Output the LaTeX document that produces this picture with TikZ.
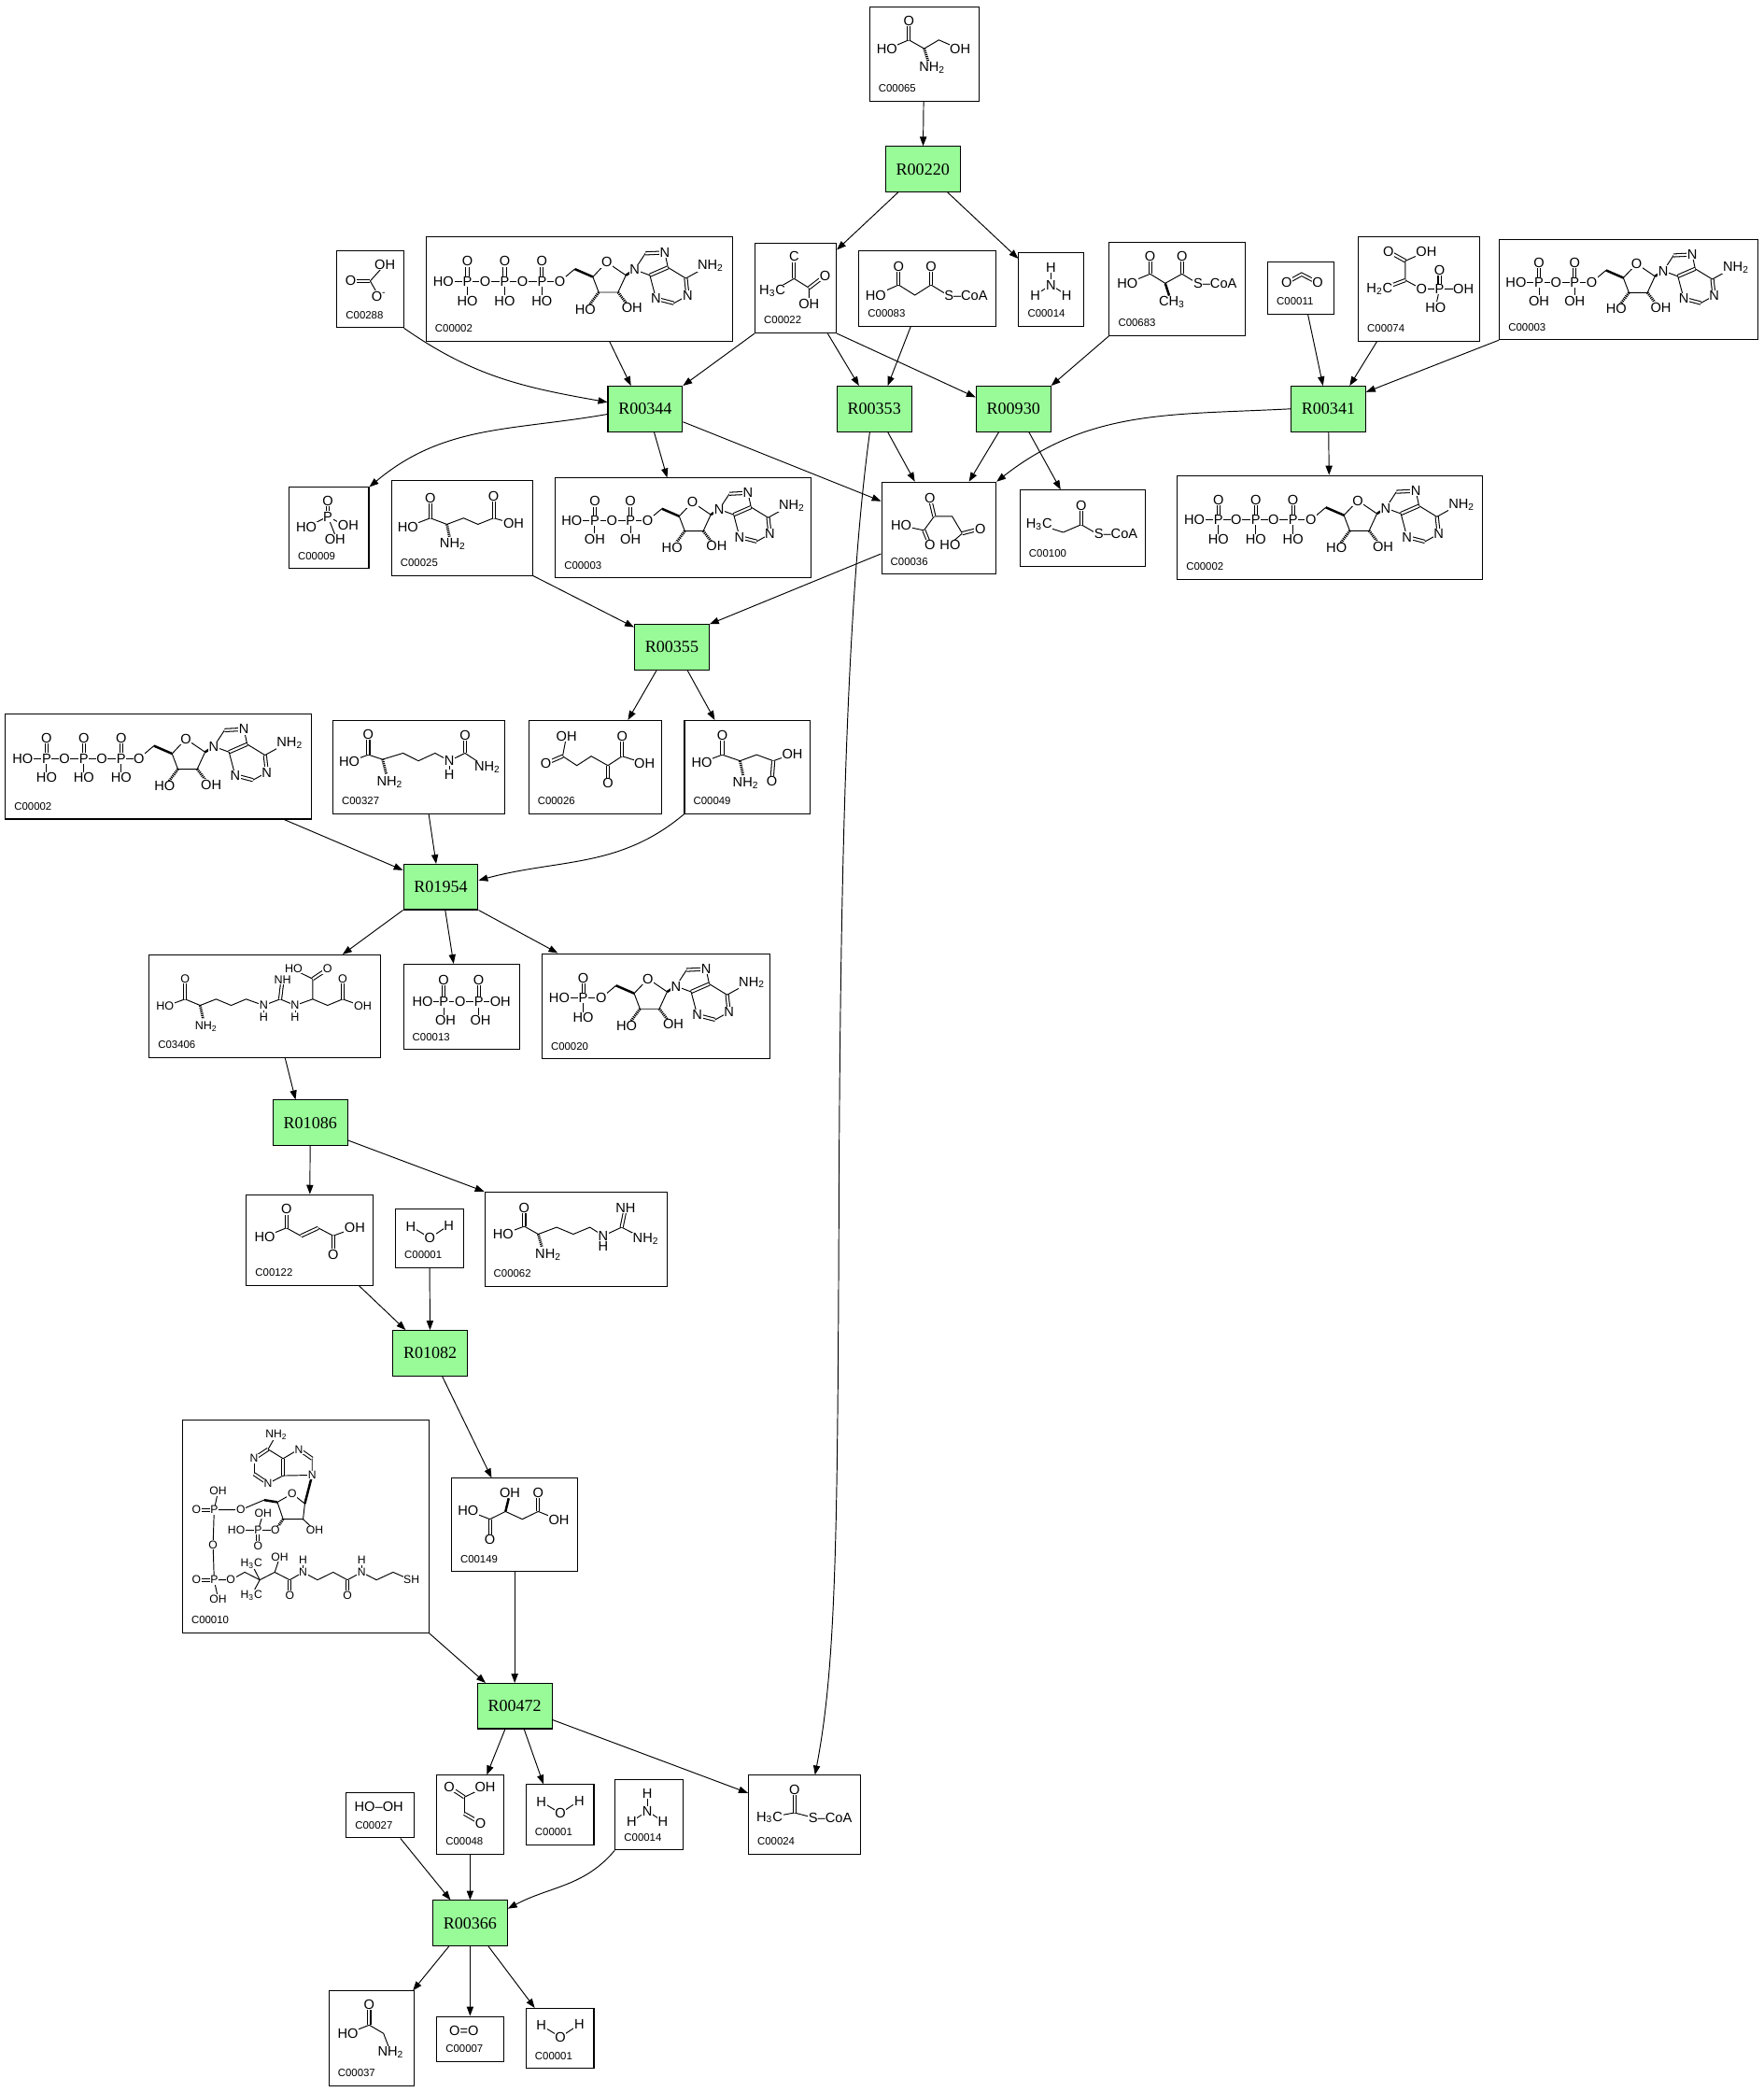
\documentclass[tikz,border=0pt]{standalone}
\usepackage{fontspec}
\setmainfont{Liberation Serif}
\newfontfamily\atomfam{Liberation Sans}
\usetikzlibrary{positioning, fit, calc, arrows.meta}
\definecolor{rxngreen}{RGB}{152,251,152}
\newcommand{\atomfont}{\atomfam\fontsize{7.7}{8}\selectfont}
\tikzset{
  cpdbox/.style={draw, line width=0.55pt, inner sep=0pt, fill=white},
  rxn/.style={draw, line width=0.55pt, fill=rxngreen, minimum width=42pt, minimum height=25.5pt, inner sep=0pt, font=\fontsize{9.5}{10}\selectfont},
  cid/.style={anchor=west, inner sep=0pt, font=\atomfam\fontsize{6}{7}\selectfont},
  atom/.style={fill=white, inner sep=0.35pt, font=\atomfont},
  bond/.style={line width=0.5pt},
  dbond/.style={double, double distance=1.1pt, line width=0.55pt},
  hash/.style={line width=1.5pt, dash pattern=on 0.6pt off 0.5pt},
  wedge/.style={line width=1.3pt},
  link/.style={line width=0.5pt, -{Triangle[length=5.2pt,width=3.8pt]}}
}
\newcommand{\cpd}[7]{%
  \node[cpdbox, fit={(#2,#3) (#4,#5)}] (#1) {};
  \begin{scope}[shift={(#2,#3)}]#7\end{scope}
  \node[cid] (#1id) at ({#2+6.5},{#5-9.5}) {#6};
}
\newcommand{\molser}{%
  \draw[bond] (13,32) -- (29.5,25) -- (41,31.5) -- (52,25) -- (68,32);
  \draw[dbond] (29.5,25) -- (29.5,10.5);
  \draw[hash] (41,31.5) -- (44,41);
  \node[atom] at (29.5,10.5) {O};
  \node[atom] at (13,32) {HO};
  \node[atom] at (68,32) {OH};
  \node[atom] at (47,46) {NH\textsubscript{2}};}
\newcommand{\molbicarb}{%
  \draw[bond] (36,10.7) -- (25,23) -- (31.5,34.5);
  \draw[dbond] (25,23) -- (10.4,23);
  \node[atom] at (36,10.7) {OH};
  \node[atom] at (10.4,23) {O};
  \node[atom] at (31.5,34.5) {O\textsuperscript{-}};}
\newcommand{\molpyr}{%
  \draw[dbond] (29.3,9.8) -- (29.3,26.2);
  \draw[bond] (13,35.6) -- (29.3,26.2) -- (40.5,33.2) -- (40.5,44.9);
  \draw[dbond] (40.5,33.2) -- (52.6,23.9);
  \node[atom] at (29.3,9.8) {C};
  \node[atom] at (13,35.6) {H\textsubscript{3}C};
  \node[atom] at (52.6,23.9) {O};
  \node[atom] at (40.5,44.9) {OH};}
\newcommand{\molmalcoa}{%
  \draw[bond] (12.7,33.6) -- (29.8,25.9) -- (42,33.6) -- (54.1,25.9) -- (66.7,33.6);
  \draw[dbond] (29.8,25.9) -- (29.8,11.9);
  \draw[dbond] (54.1,25.9) -- (54.1,11.9);
  \node[atom] at (12.7,33.6) {HO};
  \node[atom] at (29.8,11.9) {O};
  \node[atom] at (54.1,11.9) {O};
  \node[atom, anchor=west] at (63.4,33.6) {S\textendash CoA};}
\newcommand{\molnh}{%
  \draw[bond] (12.4,31.6) -- (24.1,23.9) -- (35.9,31.6);
  \draw[bond] (24.1,23.9) -- (24.1,10.6);
  \node[atom] at (24.1,10.6) {H};
  \node[atom] at (24.1,23.9) {N};
  \node[atom] at (12.4,31.6) {H};
  \node[atom] at (35.9,31.6) {H};}
\newcommand{\molmmcoa}{%
  \draw[bond] (13.6,30.7) -- (30.7,23.7) -- (42,30.7) -- (54.6,23.7) -- (66,30.7);
  \draw[dbond] (30.7,23.7) -- (30.7,10.4);
  \draw[dbond] (54.6,23.7) -- (54.6,10.4);
  \draw[wedge] (42,30.7) -- (45,40);
  \node[atom] at (13.6,30.7) {HO};
  \node[atom] at (30.7,10.4) {O};
  \node[atom] at (54.6,10.4) {O};
  \node[atom] at (47,44.7) {CH\textsubscript{3}};
  \node[atom, anchor=west] at (62.5,30.7) {S\textendash CoA};}
\newcommand{\molco}{%
  \draw[dbond] (14.1,15.2) -- (25.4,9) -- (37.5,15.2);
  \node[atom] at (14.1,15.2) {O};
  \node[atom] at (37.5,15.2) {O};}
\newcommand{\molpep}{%
  \draw[dbond] (35.3,17.9) -- (22.7,10.9);
  \draw[bond] (51.1,10.9) -- (35.3,17.9) -- (35.3,32.4) -- (47.5,38.9) -- (79,38.9);
  \draw[dbond] (35.3,32.4) -- (18,38.9);
  \draw[dbond] (61,38.9) -- (61,24.9);
  \draw[bond] (61,38.9) -- (58,52.9);
  \node[atom] at (22.7,10.9) {O};
  \node[atom] at (51.1,10.9) {OH};
  \node[atom] at (16,38.9) {H\textsubscript{2}C};
  \node[atom] at (47.5,38.9) {O};
  \node[atom] at (61,38.9) {P};
  \node[atom] at (61,24.9) {O};
  \node[atom] at (79,38.9) {OH};
  \node[atom] at (58,52.9) {HO};}
\newcommand{\molpi}{%
  \draw[dbond] (29.2,21.8) -- (29.2,10.1);
  \draw[bond] (13.1,30) -- (29.2,21.8) -- (43.5,29.5);
  \draw[bond] (29.2,21.8) -- (35.6,38.2);
  \node[atom] at (29.2,10.1) {O};
  \node[atom] at (29.2,21.8) {P};
  \node[atom] at (13.1,30) {HO};
  \node[atom] at (44.5,28.5) {OH};
  \node[atom] at (34.6,39.2) {OH};}
\newcommand{\molglu}{%
  \draw[bond] (12.3,34.5) -- (29.1,28) -- (41.6,32.7) -- (54.1,28) -- (64.9,32.7) -- (76.7,28) -- (91.7,32.2);
  \draw[dbond] (29.1,28) -- (29.1,12.8);
  \draw[dbond] (76.7,28) -- (76.7,11.6);
  \draw[hash] (41.6,32.7) -- (43.5,42);
  \node[atom] at (29.1,12.8) {O};
  \node[atom] at (12.3,34.5) {HO};
  \node[atom] at (46,47.4) {NH\textsubscript{2}};
  \node[atom] at (76.7,11.6) {O};
  \node[atom] at (91.7,32.2) {OH};}
\newcommand{\moloaa}{%
  \draw[bond] (14.7,32.7) -- (31.8,36.2) -- (39.5,25.7) -- (53,25.7) -- (60.6,38.5) -- (50.7,47.2);
  \draw[dbond] (39.5,25.7) -- (36.3,12.1);
  \draw[dbond] (31.8,36.2) -- (36.3,47.2);
  \draw[dbond] (60.6,38.5) -- (74.2,35);
  \node[atom] at (36.3,12.1) {O};
  \node[atom] at (14.7,32.7) {HO};
  \node[atom] at (36.3,47.2) {O};
  \node[atom] at (51.5,47.2) {HO};
  \node[atom] at (74.2,35) {O};}
\newcommand{\molpropcoa}{%
  \draw[bond] (14.3,25.9) -- (32.4,31.7) -- (45.9,25.9) -- (58,32.9);
  \draw[dbond] (45.9,25.9) -- (45.9,11.8);
  \node[atom] at (14.3,25.9) {H\textsubscript{3}C};
  \node[atom] at (45.9,11.8) {O};
  \node[atom, anchor=west] at (55,32.9) {S\textendash CoA};}
\newcommand{\molcit}{%
  \draw[bond] (12.3,31) -- (26.6,25.7) -- (37.3,29.2) -- (52.7,24.5) -- (64.2,30.3) -- (76.7,24.5) -- (87.4,30.3) -- (99.2,24.5) -- (115,35);
  \draw[dbond] (26.6,25.7) -- (26.6,10.5);
  \draw[dbond] (99.2,24.5) -- (99.2,11.2);
  \draw[hash] (37.3,29.2) -- (40,40);
  \draw[bond] (87.4,30.3) -- (87.4,40.8);
  \node[atom] at (26.6,10.5) {O};
  \node[atom] at (12.3,31) {HO};
  \node[atom] at (42.7,46) {NH\textsubscript{2}};
  \node[atom] at (87.4,30.3) {N};
  \node[atom] at (87.4,40.8) {H};
  \node[atom] at (99.2,11.2) {O};
  \node[atom] at (116,35) {NH\textsubscript{2}};}
\newcommand{\molakg}{%
  \draw[bond] (28.4,11.6) -- (25.5,26.8) -- (36.2,33.8) -- (47,26.8) -- (59.5,33.8) -- (70.2,26.8) -- (87,32.2);
  \draw[dbond] (25.5,26.8) -- (13,32.2);
  \draw[dbond] (59.5,33.8) -- (59.5,47.2);
  \draw[dbond] (70.2,26.8) -- (70.2,11.6);
  \node[atom] at (28.4,11.6) {OH};
  \node[atom] at (13,32.2) {O};
  \node[atom] at (59.5,47.2) {O};
  \node[atom] at (70.2,11.6) {O};
  \node[atom] at (87,32.2) {OH};}
\newcommand{\molasp}{%
  \draw[bond] (13,31.5) -- (28.4,25.7) -- (41.7,30.3) -- (54.2,25.7) -- (66.7,30.3) -- (81,25.2);
  \draw[dbond] (28.4,25.7) -- (28.4,11.2);
  \draw[dbond] (66.7,30.3) -- (65.6,45.5);
  \draw[hash] (41.7,30.3) -- (44,41);
  \node[atom] at (28.4,11.2) {O};
  \node[atom] at (13,31.5) {HO};
  \node[atom] at (46,47.2) {NH\textsubscript{2}};
  \node[atom] at (81,25.2) {OH};
  \node[atom] at (65.6,45.5) {O};}
\newcommand{\molargsuc}{%
  \def\atomfont{\atomfam\fontsize{6.6}{7}\selectfont}%
  \draw[bond] (12,38.6) -- (27,33.2) -- (38.3,37.9) -- (50.3,33.2) -- (61.6,37.9) -- (72.8,33.2) -- (86,37.9) -- (98.4,33.2) -- (109.6,37.9) -- (122.8,33.2) -- (134,37.9) -- (145.3,33.2) -- (160.4,38.6);
  \draw[dbond] (27,33.2) -- (27,18);
  \draw[dbond] (98.4,33.2) -- (100.2,18);
  \draw[bond] (122.8,33.2) -- (122.8,18) -- (107.8,10.6);
  \draw[dbond] (122.8,18) -- (134,10.6);
  \draw[dbond] (145.3,33.2) -- (145.3,18);
  \draw[hash] (38.3,37.9) -- (40.5,48);
  \draw[bond] (86,37.9) -- (86,46.6);
  \draw[bond] (109.6,37.9) -- (109.6,46.6);
  \node[atom] at (27,18) {O};
  \node[atom] at (12,38.6) {HO};
  \node[atom] at (42.8,53.5) {NH\textsubscript{2}};
  \node[atom] at (86,37.9) {N};
  \node[atom] at (86,46.6) {H};
  \node[atom] at (100.2,18.5) {NH};
  \node[atom] at (108.5,10) {HO};
  \node[atom] at (109.6,37.9) {N};
  \node[atom] at (109.6,46.6) {H};
  \node[atom] at (134,10.6) {O};
  \node[atom] at (145.3,18) {O};
  \node[atom] at (160.4,38.6) {OH};}
\newcommand{\molppi}{%
  \draw[bond] (14.4,28.4) -- (72.7,28.4);
  \draw[dbond] (30.2,28.4) -- (30.2,12);
  \draw[bond] (30.2,28.4) -- (30.2,42);
  \draw[dbond] (56.5,28.4) -- (56.5,12);
  \draw[bond] (56.5,28.4) -- (56.5,42);
  \node[atom] at (14.4,28.4) {HO};
  \node[atom] at (30.2,28.4) {P};
  \node[atom] at (42.6,28.4) {O};
  \node[atom] at (56.5,28.4) {P};
  \node[atom] at (72.7,28.4) {OH};
  \node[atom] at (30.2,12) {O};
  \node[atom] at (56.5,12) {O};
  \node[atom] at (31.5,42) {OH};
  \node[atom] at (57.8,42) {OH};}
\newcommand{\molfum}{%
  \draw[bond] (13.8,31.6) -- (30.1,25) -- (41,31);
  \draw[dbond] (41,31) -- (54,25);
  \draw[bond] (54,25) -- (65.2,30.9) -- (81.4,25);
  \draw[dbond] (30.1,25) -- (30.1,11);
  \draw[dbond] (65.2,30.9) -- (65.2,44.9);
  \node[atom] at (30.1,11) {O};
  \node[atom] at (13.8,31.6) {HO};
  \node[atom] at (81.4,25) {OH};
  \node[atom] at (65.2,44.9) {O};}
\newcommand{\molwater}{%
  \draw[bond] (11.5,12.8) -- (25.8,21.5) -- (40,12.1);
  \node[atom] at (11.5,12.8) {H};
  \node[atom] at (25.8,21.5) {O};
  \node[atom] at (40,12.1) {H};}
\newcommand{\molarg}{%
  \draw[bond] (13.9,31.7) -- (29.7,25.8) -- (40.2,31.7) -- (54,26.5) -- (66.5,31.7) -- (79,26.5) -- (89,32.9) -- (102.8,26.5) -- (119.8,35.2);
  \draw[dbond] (29.7,25.8) -- (29.7,11.8);
  \draw[dbond] (102.8,26.5) -- (105.8,11.8);
  \draw[hash] (40.2,31.7) -- (43,41.5);
  \draw[bond] (89,32.9) -- (89,40.6);
  \node[atom] at (29.7,11.8) {O};
  \node[atom] at (13.9,31.7) {HO};
  \node[atom] at (47.7,46.9) {NH\textsubscript{2}};
  \node[atom] at (89,32.9) {N};
  \node[atom] at (89,41) {H};
  \node[atom] at (105.8,11.8) {NH};
  \node[atom] at (121,35.2) {NH\textsubscript{2}};}
\newcommand{\molcoa}{%
  \def\atomfont{\atomfam\fontsize{6.4}{7}\selectfont}%
  \draw[bond] (64.3,22.2) -- (70.6,11.2);
  \draw[dbond] (64.3,22.2) -- (53.8,29.2);
  \draw[bond] (53.8,29.2) -- (53.8,40.8);
  \draw[dbond] (53.8,40.8) -- (64.3,47.9);
  \draw[bond] (64.3,47.9) -- (75.6,42);
  \draw[dbond] (75.6,42) -- (75.6,29.2);
  \draw[bond] (75.6,29.2) -- (64.3,22.2);
  \draw[bond] (75.6,29.2) -- (87.4,22.2);
  \draw[dbond] (87.4,22.2) -- (97.4,29.2);
  \draw[bond] (97.4,29.2) -- (97.4,41.6) -- (75.6,42);
  \draw[wedge] (97.4,41.6) -- (91.9,63);
  \draw[bond] (91.9,63) -- (82.4,55.6) -- (71.3,61.9) -- (75.6,74.7) -- (90.6,74.7) -- cycle;
  \draw[bond] (90.6,74.7) -- (99.4,83);
  \draw[wedge] (71.3,61.9) -- (61.3,60.3);
  \draw[bond] (61.3,60.3) -- (43.8,67.7) -- (23.8,67.7) -- (26.8,53.7);
  \draw[dbond] (23.8,67.7) -- (10.5,67.7);
  \draw[bond] (23.8,67.7) -- (23,94) -- (23.8,120.3) -- (26.8,134.4);
  \draw[dbond] (23.8,120.3) -- (10.5,120.3);
  \draw[bond] (23.8,120.3) -- (36.3,120.3) -- (46.8,114.5) -- (58.1,120.3) -- (69.3,114.5) -- (80.6,120.3) -- (90.6,114.5) -- (101.4,120.3) -- (113.2,114.5) -- (123.9,120.3) -- (134.5,114.5) -- (145.7,120.3) -- (158.2,114.5) -- (171.5,120.3);
  \draw[bond] (51.8,108) -- (58.1,120.3) -- (51.8,132);
  \draw[bond] (69.3,114.5) -- (73.1,103.3);
  \draw[dbond] (80.6,120.3) -- (80.6,132);
  \draw[dbond] (123.9,120.3) -- (123.9,132);
  \draw[bond] (90.6,114.5) -- (90.6,105.6);
  \draw[bond] (134.5,114.5) -- (134.5,105.6);
  \draw[hash] (75.6,74.7) -- (69.8,83);
  \draw[bond] (69.8,83) -- (40.5,83);
  \draw[bond] (56.8,83) -- (60.6,70.5);
  \draw[dbond] (56.8,83) -- (56.8,94.6);
  \node[atom] at (70.6,11.2) {NH\textsubscript{2}};
  \node[atom] at (53.8,29.2) {N};
  \node[atom] at (64.3,47.9) {N};
  \node[atom] at (87.4,22.2) {N};
  \node[atom] at (97.4,41.6) {N};
  \node[atom] at (82.4,55.6) {O};
  \node[atom] at (99.4,83) {OH};
  \node[atom] at (43.8,67.7) {O};
  \node[atom] at (23.8,67.7) {P};
  \node[atom] at (10.5,67.7) {O};
  \node[atom] at (26.8,53.7) {OH};
  \node[atom] at (23,94) {O};
  \node[atom] at (23.8,120.3) {P};
  \node[atom] at (10.5,120.3) {O};
  \node[atom] at (26.8,134.4) {OH};
  \node[atom] at (36.3,120.3) {O};
  \node[atom] at (51.8,108) {H\textsubscript{3}C};
  \node[atom] at (51.8,132) {H\textsubscript{3}C};
  \node[atom] at (73.1,103.3) {OH};
  \node[atom] at (80.6,132) {O};
  \node[atom] at (90.6,114.5) {N};
  \node[atom] at (90.6,105.6) {H};
  \node[atom] at (123.9,132) {O};
  \node[atom] at (134.5,114.5) {N};
  \node[atom] at (134.5,105.6) {H};
  \node[atom] at (172,120.3) {SH};
  \node[atom] at (69.8,83) {O};
  \node[atom] at (56.8,83) {P};
  \node[atom] at (40.5,83) {HO};
  \node[atom] at (60.6,70.5) {OH};
  \node[atom] at (56.8,94.6) {O};}
\newcommand{\molmal}{%
  \draw[bond] (12.6,24.4) -- (28.9,30.7) -- (40.6,24.9) -- (53.2,30.7) -- (65.2,24.9) -- (80.7,31.2);
  \draw[dbond] (28.9,30.7) -- (28.9,45.9);
  \draw[dbond] (65.2,24.9) -- (65.2,10.9);
  \draw[wedge] (40.6,24.9) -- (43,15);
  \node[atom] at (12.6,24.4) {HO};
  \node[atom] at (28.9,45.9) {O};
  \node[atom] at (43.9,10.9) {OH};
  \node[atom] at (65.2,10.9) {O};
  \node[atom] at (80.7,31.2) {OH};}
\newcommand{\molperox}{\node[atom] at (24.5,10.3) {HO\textendash OH};}
\newcommand{\molglyox}{%
  \draw[dbond] (20.7,16.4) -- (9.4,8.9);
  \draw[bond] (20.7,16.4) -- (36.3,8.9);
  \draw[bond] (20.7,16.4) -- (20.7,28.8);
  \draw[dbond] (20.7,28.8) -- (32.8,35.8);
  \node[atom] at (9.4,8.9) {O};
  \node[atom] at (36.3,8.9) {OH};
  \node[atom] at (32.8,35.8) {O};}
\newcommand{\molaccoa}{%
  \draw[bond] (15.8,31.6) -- (34.6,28.1) -- (48,31.6);
  \draw[dbond] (34.6,28.1) -- (34.6,10.6);
  \node[atom] at (15.8,31.6) {H\textsubscript{3}C};
  \node[atom] at (34.6,10.6) {O};
  \node[atom, anchor=west] at (44.5,31.6) {S\textendash CoA};}
\newcommand{\molgly}{%
  \draw[bond] (14.2,31.8) -- (30.3,25.5) -- (41,31.8) -- (46.4,45.9);
  \draw[dbond] (30.3,25.5) -- (30.3,10.3);
  \node[atom] at (30.3,10.3) {O};
  \node[atom] at (14.2,31.8) {HO};
  \node[atom] at (46.4,45.9) {NH\textsubscript{2}};}
\newcommand{\moloo}{\node[atom] at (20.4,10.7) {O=O};}
\newcommand{\moladenosine}{%
  \draw[bond] (100.8,33.4) -- (112,24);
  \draw[wedge] (112,24) -- (125.6,29.9);
  \draw[bond] (125.6,29.9) -- (136,18.9) -- (150.4,28.7) -- (144.5,41.5) -- (130,41.5) -- cycle;
  \draw[hash] (130,41.5) -- (123,51);
  \draw[hash] (144.5,41.5) -- (151,50);
  \draw[wedge] (150.4,28.7) -- (157,24.5);
  \draw[bond] (157,24.5) -- (165,12.3);
  \draw[dbond] (165,12.3) -- (179.6,11.6);
  \draw[bond] (179.6,11.6) -- (182,22.8);
  \draw[dbond] (182,22.8) -- (168.4,28.7);
  \draw[bond] (168.4,28.7) -- (157,24.5);
  \draw[bond] (168.4,28.7) -- (173,46.2);
  \draw[dbond] (173,46.2) -- (186.4,49.7);
  \draw[bond] (186.4,49.7) -- (196.8,43.9);
  \draw[dbond] (196.8,43.9) -- (195.4,31);
  \draw[bond] (195.4,31) -- (182,22.8);
  \draw[bond] (195.4,31) -- (208,24);
  \node[atom] at (136,18.9) {O};
  \node[atom] at (120,54.4) {HO};
  \node[atom] at (155,53.2) {OH};
  \node[atom] at (157,24.5) {N};
  \node[atom] at (179.6,11.6) {N};
  \node[atom] at (173,46.2) {N};
  \node[atom] at (196.8,43.9) {N};
  \node[atom] at (214,21.7) {NH\textsubscript{2}};}
\newcommand{\molnucl}[2]{%
  \pgfmathsetmacro{\lastox}{44.4+28*(#1-1)}%
  \begin{scope}[shift={({\lastox-100.8},0)}]\moladenosine\end{scope}
  \draw[bond] (13,33.4) -- (\lastox,33.4);
  \foreach \k in {1,...,#1}{%
    \pgfmathsetmacro{\phx}{31+28*(\k-1)}%
    \draw[dbond] (\phx,33.4) -- (\phx,18.2);
    \draw[bond] (\phx,33.4) -- (\phx,47.9);
    \node[atom] at (\phx,18.2) {O};
    \node[atom] at (\phx,47.9) {#2};
    \node[atom] at (\phx,33.4) {P};
    \node[atom] at (\phx+13.4,33.4) {O};
  }
  \node[atom] at (13,33.4) {HO};}

\begin{document}
\begin{tikzpicture}[x=0.75pt, y=-0.75pt]
\path[fill=white] (0,0) rectangle (1324,1570.8);
\useasboundingbox (0,0) rectangle (1324,1570.8);

\cpd{c65}{653}{5}{735}{76}{C00065}{\molser}
\cpd{c288}{253}{188}{303}{246}{C00288}{\molbicarb}
\cpd{c2a}{320}{178}{550}{256}{C00002}{\molnucl{3}{HO}}
\cpd{c22}{567}{183}{628}{250}{C00022}{\molpyr}
\cpd{c83}{645}{188}{748}{245}{C00083}{\molmalcoa}
\cpd{c14a}{765}{190}{814}{245}{C00014}{\molnh}
\cpd{c683}{833}{182}{935}{252}{C00683}{\molmmcoa}
\cpd{c11}{952}{197}{1002}{236}{C00011}{\molco}
\cpd{c74}{1020}{178}{1111}{256}{C00074}{\molpep}
\cpd{c3a}{1126}{180}{1320}{255}{C00003}{\begin{scope}[scale=0.957]\molnucl{2}{OH}\end{scope}}
\cpd{c9}{217}{366}{277}{427}{C00009}{\molpi}
\cpd{c25}{294}{361}{400}{432}{C00025}{\molglu}
\cpd{c3b}{417}{359}{609}{434}{C00003}{\begin{scope}[scale=0.957]\molnucl{2}{OH}\end{scope}}
\cpd{c36}{662}{362}{748}{431}{C00036}{\moloaa}
\cpd{c100}{766}{368}{860}{425}{C00100}{\molpropcoa}
\cpd{c2b}{884}{357}{1113}{435}{C00002}{\molnucl{3}{HO}}
\cpd{c2c}{4}{536}{234}{615}{C00002}{\molnucl{3}{HO}}
\cpd{c327}{250}{541}{379}{611}{C00327}{\molcit}
\cpd{c26}{397}{541}{497}{611}{C00026}{\molakg}
\cpd{c49}{514}{541}{608}{611}{C00049}{\molasp}
\cpd{c3406}{112}{717}{286}{794}{C03406}{\molargsuc}
\cpd{c13}{303}{724}{390}{788}{C00013}{\molppi}
\cpd{c20}{407}{716}{578}{795}{C00020}{\molnucl{1}{HO}}
\cpd{c122}{185}{897}{280}{965}{C00122}{\molfum}
\cpd{c1a}{297}{908}{348}{952}{C00001}{\molwater}
\cpd{c62}{364}{895}{501}{966}{C00062}{\molarg}
\cpd{c10}{137}{1066}{322}{1226}{C00010}{\molcoa}
\cpd{c149}{339}{1110}{434}{1180}{C00149}{\molmal}
\cpd{c27}{260}{1346}{311}{1380}{C00027}{\molperox}
\cpd{c48}{328}{1333}{378}{1392}{C00048}{\molglyox}
\cpd{c1b}{395}{1340}{446}{1385}{C00001}{\molwater}
\cpd{c14b}{462}{1336}{513}{1389}{C00014}{\molnh}
\cpd{c24}{562}{1333}{646}{1392}{C00024}{\molaccoa}
\cpd{c37}{247}{1495}{311}{1566}{C00037}{\molgly}
\cpd{c7}{328}{1514}{378}{1548}{C00007}{\moloo}
\cpd{c1c}{395}{1508}{446}{1553}{C00001}{\molwater}

\node[rxn] (r220) at (693,127) {R00220};
\node[rxn] (r344) at (484.5,307) {R00344};
\node[rxn] (r353) at (656.5,307) {R00353};
\node[rxn] (r930) at (761,307) {R00930};
\node[rxn] (r341) at (997.5,307) {R00341};
\node[rxn] (r355) at (504.5,486) {R00355};
\node[rxn] (r1954) at (331,666) {R01954};
\node[rxn] (r1086) at (233,843) {R01086};
\node[rxn] (r1082) at (323,1016) {R01082};
\node[rxn] (r472) at (386.5,1281) {R00472};
\node[rxn] (r366) at (353,1444) {R00366};

\draw[link] (c65) -- (r220);
\draw[link] (r220) -- (c22);
\draw[link] (r220) -- (c14a);
\draw[link] (c288.south east) to[out=-35, in=170] (r344.170);
\draw[link] ([xshift=17pt]c2a.south) -- ([xshift=-8pt]r344.north);
\draw[link] (c22.south west) -- (r344.north east);
\draw[link] ([xshift=18pt]c22.south) -- ([xshift=-8.6pt]r353.north);
\draw[link] (c22.south east) -- (r930.163);
\draw[link] ([xshift=-9.5pt]c83.south) -- ([xshift=7.6pt]r353.north);
\draw[link] (c683.south west) -- (r930.north east);
\draw[link] ([xshift=3.9pt]c11.south) -- ([xshift=-3pt]r341.north);
\draw[link] ([xshift=-23.6pt]c74.south) -- ([xshift=12pt]r341.north);
\draw[link] (c3a.south west) -- (r341.24);
\draw[link] (r344.188) to[out=190, in=40] (c9.north east);
\draw[link] ([xshift=5pt]r344.south) -- ([xshift=-9pt]c3b.north);
\draw[link] (r344.-19) -- (c36.155);
\draw[link] ([xshift=7.6pt]r353.south) -- ([xshift=-13.5pt]c36.north);
\draw[link] ([xshift=-8.2pt]r930.south) -- ([xshift=17pt]c36.north);
\draw[link] ([xshift=8.7pt]r930.south) -- ([xshift=-12.4pt]c100.north);
\draw[link] (r341.west) to[out=183, in=38] (c36.north east);
\draw[link] (r341) -- (c2b);
\draw[link] ([xshift=-2.5pt]r353.south) .. controls (636,450) and (631,650) .. (630,900) .. controls (629,1150) and (628,1250) .. ([xshift=6pt]c24.north);
\draw[link] (c25.south east) -- (r355.152);
\draw[link] (c36.204) -- (r355.north east);
\draw[link] ([xshift=-8.6pt]r355.south) -- ([xshift=18.4pt]c26.north);
\draw[link] ([xshift=8.8pt]r355.south) -- ([xshift=-18.2pt]c49.north);
\draw[link] ([xshift=70.8pt]c2c.south) -- (r1954.156);
\draw[link] ([xshift=5.6pt]c327.south) -- ([xshift=-2.6pt]r1954.north);
\draw[link] (c49.south west) to[out=-140, in=15] (r1954.10);
\draw[link] (r1954.south west) -- ([xshift=43.7pt]c3406.north);
\draw[link] ([xshift=2.5pt]r1954.south) -- ([xshift=-4.4pt]c13.north);
\draw[link] (r1954.south east) -- ([xshift=-55.2pt]c20.north);
\draw[link] ([xshift=11.3pt]c3406.south) -- ([xshift=-8.3pt]r1086.north);
\draw[link] (r1086) -- (c122);
\draw[link] (r1086.-25) -- (c62.north west);
\draw[link] ([xshift=27.8pt]c122.south) -- ([xshift=-13.8pt]r1082.north);
\draw[link] (c1a) -- (r1082);
\draw[link] ([xshift=6.8pt]r1082.south) -- ([xshift=-13pt]c149.north);
\draw[link] (c10.south east) -- ([xshift=-16.4pt]r472.north);
\draw[link] (c149) -- (r472);
\draw[link] ([xshift=-5.4pt]r472.south) -- ([xshift=9.4pt]c48.north);
\draw[link] ([xshift=5.3pt]r472.south) -- ([xshift=-9.3pt]c1b.north);
\draw[link] (r472.-20) -- (c24.159);
\draw[link] ([xshift=11.4pt]c27.south) -- ([xshift=-11pt]r366.north);
\draw[link] (c48) -- (r366);
\draw[link] (c14b.south west) to[out=-130, in=28] (r366.21);
\draw[link] ([xshift=-11.9pt]r366.south) -- ([xshift=-1pt]c37.north east);
\draw[link] (r366) -- (c7);
\draw[link] ([xshift=10.3pt]r366.south) -- ([xshift=-14.2pt]c1c.north);
\end{tikzpicture}
\end{document}
